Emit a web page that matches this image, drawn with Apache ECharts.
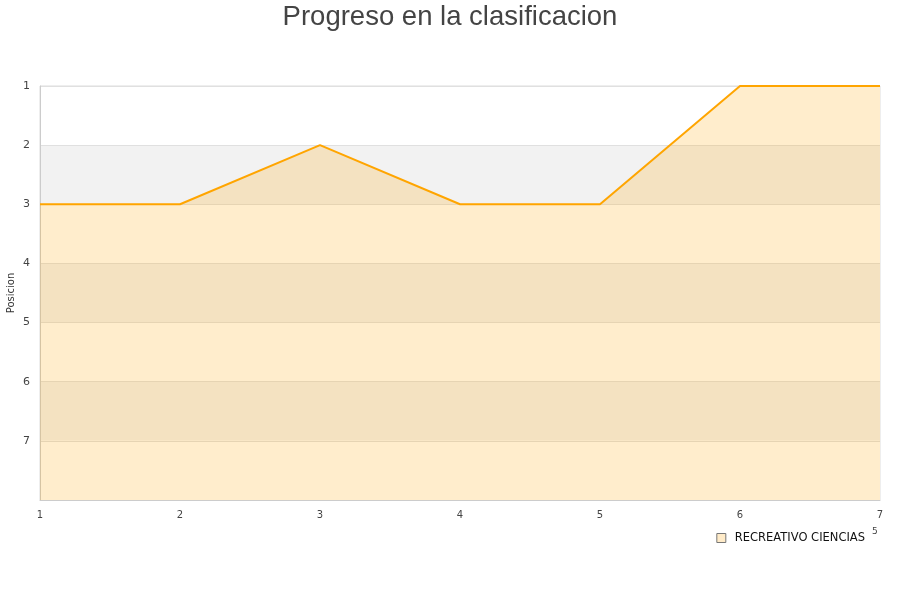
<!DOCTYPE html>
<html><head><meta charset="utf-8">
<script src="https://cdn.jsdelivr.net/npm/echarts@6/dist/echarts.min.js"></script>
<style>html,body{margin:0;padding:0;background:#fff}#c{width:900px;height:600px}</style>
</head><body><div id="c"></div>
<script>
var jornadas = [1, 2, 3, 4, 5, 6, 7];
var posiciones = [3, 3, 2, 3, 3, 1, 1];
var yTicks = [1, 2, 3, 4, 5, 6, 7];
var seriesName = 'RECREATIVO CIENCIAS';
var chart = echarts.init(document.getElementById('c'));
chart.setOption({
  animation: false,
  title: {text: 'Progreso en la clasificacion', left: 'center', top: -2,
    textStyle: {fontFamily: 'Liberation Sans', fontSize: 27.5, fontWeight: 'normal', color: '#444'}},
  legend: {right: 30, top: 527, icon: 'rect', itemWidth: 9, itemHeight: 9, itemGap: 8,
    textStyle: {fontFamily: 'DejaVu Sans', fontSize: 11.5, color: '#111', padding: [0, 0, 0, 4]},
    itemStyle: {color: '#ffebc8', borderColor: '#777', borderWidth: 1},
    data: [seriesName]},
  grid: {left: 40, right: 20, top: 86, bottom: 100, show: true, borderColor: '#ddd', borderWidth: 1,
    containLabel: false, outerBoundsMode: 'none'},
  xAxis: {type: 'value', min: 1, max: 7, interval: 1,
    axisLine: {show: true, lineStyle: {color: '#ccc'}}, axisTick: {show: false},
    splitLine: {show: false},
    axisLabel: {fontFamily: 'DejaVu Sans', fontSize: 10, color: '#444', margin: 10}},
  yAxis: {type: 'value', inverse: true, min: 1, max: 8, interval: 1,
    name: 'Posicion', nameLocation: 'middle', nameGap: 24, nameRotate: 90, nameMoveOverlap: false,
    nameTextStyle: {fontFamily: 'DejaVu Sans', fontSize: 10, color: '#333'},
    axisLine: {show: true, lineStyle: {color: '#ccc'}}, axisTick: {show: false},
    axisLabel: {fontFamily: 'DejaVu Sans', fontSize: 11, color: '#444', margin: 10,
      showMaxLabel: false,
      formatter: function (v) { return yTicks.indexOf(v) >= 0 ? String(v) : ''; }},
    splitLine: {show: true, lineStyle: {color: '#e0e0e0'}},
    splitArea: {show: true, areaStyle: {color: ['#ffffff', '#f2f2f2']}}},
  series: [{
    name: seriesName, type: 'line', showSymbol: false, symbol: 'none',
    data: jornadas.map(function (j, i) { return [j, posiciones[i]]; }),
    lineStyle: {color: '#ffa500', width: 2}, itemStyle: {color: '#ffa500'},
    areaStyle: {color: '#ffa500', opacity: 0.2, origin: 'end'}
  }],
  graphic: [{type: 'text', left: 872, top: 527,
    style: {text: '5', font: '9px DejaVu Sans', fill: '#444'}}]
});
</script></body></html>
